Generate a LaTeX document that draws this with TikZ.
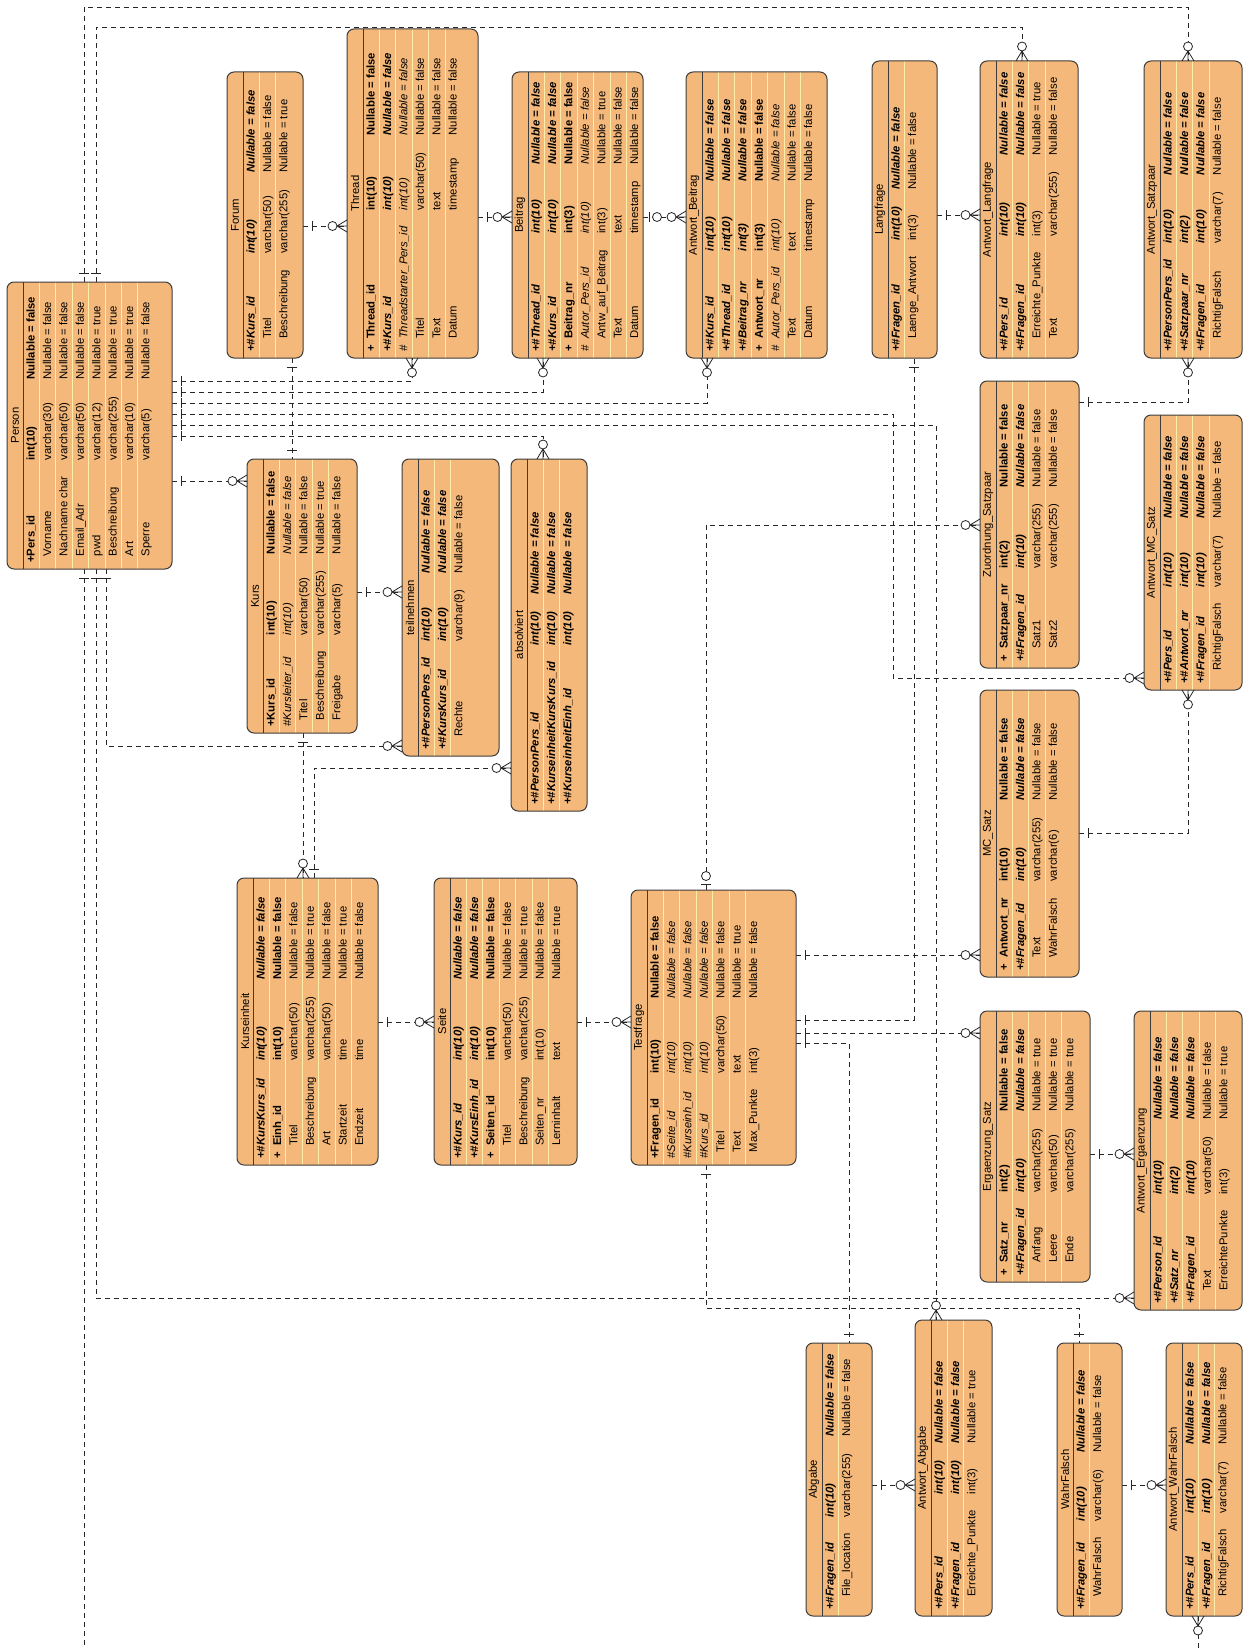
\documentclass[tikz,border=0pt]{standalone}
\usepackage{fontspec}
\setmainfont{Liberation Sans}
\usetikzlibrary{fit}
\definecolor{tblfill}{RGB}{244,184,122}
\definecolor{tblborder}{RGB}{60,60,60}
\definecolor{sepcol}{RGB}{255,238,170}
\newcommand\NF{Nullable = false}
\newcommand\NT{Nullable = true}
\newcommand\rb[4]{\textbf{#1}&\textbf{#2}&\textbf{#3}&\textbf{#4}\\}
\newcommand\rbi[4]{\textbf{\textit{#1}}&\textbf{\textit{#2}}&\textbf{\textit{#3}}&\textbf{\textit{#4}}\\}
\newcommand\ri[4]{\textit{#1}&\textit{#2}&\textit{#3}&\textit{#4}\\}
\newcommand\rn[4]{#1&#2&#3&#4\\}
\newcommand\ertable[8]{%
  \fill[tblfill, rounded corners=7pt] (#2,#3) rectangle (#4,#5);
  \pgfmathtruncatemacro\nsep{#7-1}%
  \foreach \sk in {1,...,\nsep}{\draw[sepline] ({#2+16+16.4*\sk},#3) -- ({#2+16+16.4*\sk},#5);}
  \draw[titleline] ({#2+16},#3) -- ({#2+16},#5);
  \draw[tblline, rounded corners=7pt] (#2,#3) rectangle (#4,#5);
  \node[fit={(#2,#3) (#4,#5)}, inner sep=0pt, outer sep=0pt] (#1) {};
  \node[titletext, rotate=90] (#1-t) at ({#2+8},{(#3+#5)/2}) {#6};
  \node[bodytext, rotate=90, anchor=north west] (#1-b) at ({#2+16},{#5-6})
    {\begin{tabular}{@{}l@{}l@{\hspace{16pt}}l@{\hspace{17pt}}l@{}}#8\end{tabular}};
}
\newcommand\mone[2]{\begin{scope}[shift={#1},rotate=#2]\draw[mk] (9,-5) -- (9,5);\end{scope}}
\newcommand\mcrow[2]{\begin{scope}[shift={#1},rotate=#2]\draw[mk] (0,-6) -- (10,0) -- (0,6) (0,0) -- (10,0);\draw[mk, fill=white] (14.5,0) circle[radius=4.5pt];\end{scope}}
\newcommand\mzone[2]{\begin{scope}[shift={#1},rotate=#2]\draw[mk] (6,-5) -- (6,5);\draw[mk, fill=white] (14,0) circle[radius=4.5pt];\end{scope}}
\begin{document}
\begin{tikzpicture}[x=1pt,y=-1pt,
  sepline/.style={draw=sepcol, line width=0.9pt},
  titleline/.style={draw=tblborder, line width=1pt},
  tblline/.style={draw=tblborder, line width=1pt},
  titletext/.style={font=\fontsize{11.3pt}{13pt}\selectfont, inner sep=0pt},
  bodytext/.style={font=\fontsize{11.3pt}{16.4pt}\selectfont, inner sep=0pt},
  conn/.style={draw=black!85, line width=0.8pt, dash pattern=on 5pt off 4pt},
  mk/.style={draw=black!85, line width=0.8pt, solid}]
\fill[white] (0,0) rectangle (1243,1648);
\useasboundingbox (0,0) rectangle (1243,1648);

% ---------- connectors ----------
% Person top
\draw[conn] (84,282) -- (84,7) -- (1188,7) -- (1188,61);
\draw[conn] (96,282) -- (96,27) -- (1022,27) -- (1022,61);
% Person bottom
\draw[conn] (84,569) -- (84,1648);
\draw[conn] (96,569) -- (96,1298) -- (1134,1298);
\draw[conn] (106,569) -- (106,746) -- (402,746);
\draw[conn] (1198,1616) -- (1198,1648);
% Person right
\draw[conn] (172,381) -- (412,381) -- (412,358);
\draw[conn] (172,392) -- (543,392) -- (543,358);
\draw[conn] (172,403) -- (707,403) -- (707,358);
\draw[conn] (172,414) -- (893,414) -- (893,678) -- (1144,678);
\draw[conn] (172,425) -- (936,425) -- (936,1320);
\draw[conn] (172,436) -- (543,436) -- (543,459);
\draw[conn] (172,481) -- (247,481);
% upper row
\draw[conn] (303,226) -- (347,226);
\draw[conn] (478,217) -- (512,217);
\draw[conn] (643,217) -- (686,217);
\draw[conn] (937,215) -- (980,215);
% Kurs
\draw[conn] (292,358) -- (292,459);
\draw[conn] (357,592) -- (402,592);
\draw[conn] (303,733) -- (303,878);
\draw[conn] (314,878) -- (314,768) -- (511,768);
% Kurseinheit, Seite, Testfrage
\draw[conn] (378,1022) -- (434,1022);
\draw[conn] (577,1022) -- (631,1022);
\draw[conn] (796,955) -- (980,955);
\draw[conn] (796,1020) -- (914,1020) -- (914,358);
\draw[conn] (796,1033) -- (980,1033);
\draw[conn] (796,1043) -- (849,1043) -- (849,1343);
\draw[conn] (706,890) -- (706,525) -- (980,525);
\draw[conn] (706,1165) -- (706,1308) -- (1079,1308) -- (1079,1343);
% right column
\draw[conn] (1079,833) -- (1188,833) -- (1188,690);
\draw[conn] (1079,402) -- (1188,402) -- (1188,358);
\draw[conn] (1090,1154) -- (1134,1154);
\draw[conn] (872,1485) -- (915,1485);
\draw[conn] (1122,1485) -- (1166,1485);

% ---------- tables ----------
\ertable{Person}{7}{282}{172}{569}{Person}{8}{%
\rb{+}{Pers\_id}{int(10)}{\NF}
\rn{}{Vorname}{varchar(30)}{\NF}
\rn{}{Nachname char}{varchar(50)}{\NF}
\rn{}{Email\_Adr}{varchar(50)}{\NF}
\rn{}{pwd}{varchar(12)}{\NT}
\rn{}{Beschreibung}{varchar(255)}{\NT}
\rn{}{Art}{varchar(10)}{\NT}
\rn{}{Sperre}{varchar(5)}{\NF}}

\ertable{Forum}{227}{72}{303}{358}{Forum}{3}{%
\rbi{+\#}{Kurs\_id}{int(10)}{\NF}
\rn{}{Titel}{varchar(50)}{\NF}
\rn{}{Beschreibung}{varchar(255)}{\NT}}

\ertable{Thread}{347}{29}{478}{358}{Thread}{6}{%
\rb{+\kern4pt}{Thread\_id}{int(10)}{\NF}
\rbi{+\#}{Kurs\_id}{int(10)}{\NF}
\ri{\#\kern4pt}{Threadstarter\_Pers\_id}{int(10)}{\NF}
\rn{}{Titel}{varchar(50)}{\NF}
\rn{}{Text}{text}{\NF}
\rn{}{Datum}{timestamp}{\NF}}

\ertable{Beitrag}{512}{72}{643}{358}{Beitrag}{7}{%
\rbi{+\#}{Thread\_id}{int(10)}{\NF}
\rbi{+\#}{Kurs\_id}{int(10)}{\NF}
\rb{+\kern4pt}{Beitrag\_nr}{int(3)}{\NF}
\ri{\#\kern4pt}{Autor\_Pers\_id}{int(10)}{\NF}
\rn{}{Antw\_auf\_Beitrag}{int(3)}{\NT}
\rn{}{Text}{text}{\NF}
\rn{}{Datum}{timestamp}{\NF}}

\ertable{AntwortBeitrag}{686}{72}{827}{358}{Antwort\_Beitrag}{7}{%
\rbi{+\#}{Kurs\_id}{int(10)}{\NF}
\rbi{+\#}{Thread\_id}{int(10)}{\NF}
\rbi{+\#}{Beitrag\_nr}{int(3)}{\NF}
\rb{+\kern4pt}{Antwort\_nr}{int(3)}{\NF}
\ri{\#\kern4pt}{Autor\_Pers\_id}{int(10)}{\NF}
\rn{}{Text}{text}{\NF}
\rn{}{Datum}{timestamp}{\NF}}

\ertable{Langfrage}{872}{61}{937}{358}{Langfrage}{2}{%
\rbi{+\#}{Fragen\_id}{int(10)}{\NF}
\rn{}{Laenge\_Antwort}{int(3)}{\NF}}

\ertable{AntwortLangfrage}{980}{61}{1078}{358}{Antwort\_Langfrage}{4}{%
\rbi{+\#}{Pers\_id}{int(10)}{\NF}
\rbi{+\#}{Fragen\_id}{int(10)}{\NF}
\rn{}{Erreichte\_Punkte}{int(3)}{\NT}
\rn{}{Text}{varchar(255)}{\NF}}

\ertable{AntwortSatzpaar}{1144}{61}{1242}{358}{Antwort\_Satzpaar}{4}{%
\rbi{+\#}{PersonPers\_id}{int(10)}{\NF}
\rbi{+\#}{Satzpaar\_nr}{int(2)}{\NF}
\rbi{+\#}{Fragen\_id}{int(10)}{\NF}
\rn{}{RichtigFalsch}{varchar(7)}{\NF}}

\ertable{Kurs}{247}{459}{357}{733}{Kurs}{5}{%
\rb{+}{Kurs\_id}{int(10)}{\NF}
\ri{\#}{Kursleiter\_id}{int(10)}{\NF}
\rn{}{Titel}{varchar(50)}{\NF}
\rn{}{Beschreibung}{varchar(255)}{\NT}
\rn{}{Freigabe}{varchar(5)}{\NF}}

\ertable{teilnehmen}{402}{459}{499}{756}{teilnehmen}{3}{%
\rbi{+\#}{PersonPers\_id}{int(10)}{\NF}
\rbi{+\#}{KursKurs\_id}{int(10)}{\NF}
\rn{}{Rechte}{varchar(9)}{\NF}}

\ertable{absolviert}{511}{459}{587}{811}{absolviert}{3}{%
\rbi{+\#}{PersonPers\_id}{int(10)}{\NF}
\rbi{+\#}{KurseinheitKursKurs\_id}{int(10)}{\NF}
\rbi{+\#}{KurseinheitEinh\_id}{int(10)}{\NF}}

\ertable{Zuordnung}{980}{381}{1079}{668}{Zuordnung\_Satzpaar}{4}{%
\rb{+\kern4pt}{Satzpaar\_nr}{int(2)}{\NF}
\rbi{+\#}{Fragen\_id}{int(10)}{\NF}
\rn{}{Satz1}{varchar(255)}{\NF}
\rn{}{Satz2}{varchar(255)}{\NF}}

\ertable{AntwortMCSatz}{1144}{415}{1242}{690}{Antwort\_MC\_Satz}{4}{%
\rbi{+\#}{Pers\_id}{int(10)}{\NF}
\rbi{+\#}{Antwort\_nr}{int(10)}{\NF}
\rbi{+\#}{Fragen\_id}{int(10)}{\NF}
\rn{}{RichtigFalsch}{varchar(7)}{\NF}}

\ertable{MCSatz}{980}{690}{1079}{977}{MC\_Satz}{4}{%
\rb{+\kern4pt}{Antwort\_nr}{int(10)}{\NF}
\rbi{+\#}{Fragen\_id}{int(10)}{\NF}
\rn{}{Text}{varchar(255)}{\NF}
\rn{}{WahrFalsch}{varchar(6)}{\NF}}

\ertable{Kurseinheit}{237}{878}{378}{1165}{Kurseinheit}{7}{%
\rbi{+\#}{KursKurs\_id}{int(10)}{\NF}
\rb{+\kern4pt}{Einh\_id}{int(10)}{\NF}
\rn{}{Titel}{varchar(50)}{\NF}
\rn{}{Beschreibung}{varchar(255)}{\NT}
\rn{}{Art}{varchar(50)}{\NF}
\rn{}{Startzeit}{time}{\NT}
\rn{}{Endzeit}{time}{\NF}}

\ertable{Seite}{434}{878}{577}{1165}{Seite}{7}{%
\rbi{+\#}{Kurs\_id}{int(10)}{\NF}
\rbi{+\#}{KursEinh\_id}{int(10)}{\NF}
\rb{+\kern4pt}{Seiten\_id}{int(10)}{\NF}
\rn{}{Titel}{varchar(50)}{\NF}
\rn{}{Beschreibung}{varchar(255)}{\NT}
\rn{}{Seiten\_nr}{int(10)}{\NF}
\rn{}{Lerninhalt}{text}{\NT}}

\ertable{Testfrage}{631}{890}{796}{1165}{Testfrage}{7}{%
\rb{+}{Fragen\_id}{int(10)}{\NF}
\ri{\#}{Seite\_id}{int(10)}{\NF}
\ri{\#}{Kurseinh\_id}{int(10)}{\NF}
\ri{\#}{Kurs\_id}{int(10)}{\NF}
\rn{}{Titel}{varchar(50)}{\NF}
\rn{}{Text}{text}{\NT}
\rn{}{Max\_Punkte}{int(3)}{\NF}}

\ertable{ErgaenzungSatz}{980}{1011}{1090}{1282}{Ergaenzung\_Satz}{5}{%
\rb{+\kern4pt}{Satz\_nr}{int(2)}{\NF}
\rbi{+\#}{Fragen\_id}{int(10)}{\NF}
\rn{}{Anfang}{varchar(255)}{\NT}
\rn{}{Leere}{varchar(50)}{\NT}
\rn{}{Ende}{varchar(255)}{\NT}}

\ertable{AntwortErgaenzung}{1134}{1011}{1242}{1310}{Antwort\_Ergaenzung}{5}{%
\rbi{+\#}{Person\_id}{int(10)}{\NF}
\rbi{+\#}{Satz\_nr}{int(2)}{\NF}
\rbi{+\#}{Fragen\_id}{int(10)}{\NF}
\rn{}{Text}{varchar(50)}{\NF}
\rn{}{ErreichtePunkte}{int(3)}{\NT}}

\ertable{Abgabe}{806}{1343}{872}{1616}{Abgabe}{2}{%
\rbi{+\#}{Fragen\_id}{int(10)}{\NF}
\rn{}{File\_location}{varchar(255)}{\NF}}

\ertable{AntwortAbgabe}{915}{1320}{992}{1616}{Antwort\_Abgabe}{3}{%
\rbi{+\#}{Pers\_id}{int(10)}{\NF}
\rbi{+\#}{Fragen\_id}{int(10)}{\NF}
\rn{}{Erreichte\_Punkte}{int(3)}{\NT}}

\ertable{WahrFalsch}{1057}{1343}{1122}{1616}{WahrFalsch}{2}{%
\rbi{+\#}{Fragen\_id}{int(10)}{\NF}
\rn{}{WahrFalsch}{varchar(6)}{\NF}}

\ertable{AntwortWahrFalsch}{1166}{1343}{1242}{1616}{Antwort\_WahrFalsch}{3}{%
\rbi{+\#}{Pers\_id}{int(10)}{\NF}
\rbi{+\#}{Fragen\_id}{int(10)}{\NF}
\rn{}{RichtigFalsch}{varchar(7)}{\NF}}

% ---------- end markers ----------
\mone{(84,0 |- Person.north)}{90}  \mcrow{(1188,0 |- AntwortSatzpaar.north)}{90}
\mone{(96,0 |- Person.north)}{90}  \mcrow{(1022,0 |- AntwortLangfrage.north)}{90}
\mone{(84,0 |- Person.south)}{270}
\mone{(96,0 |- Person.south)}{270} \mcrow{(AntwortErgaenzung.west |- 0,1298)}{180}
\mone{(106,0 |- Person.south)}{270} \mcrow{(teilnehmen.west |- 0,746)}{180}
\mcrow{(1198,0 |- AntwortWahrFalsch.south)}{270}
\mone{(Person.east |- 0,381)}{0} \mcrow{(412,0 |- Thread.south)}{270}
\mone{(Person.east |- 0,392)}{0} \mcrow{(543,0 |- Beitrag.south)}{270}
\mone{(Person.east |- 0,403)}{0} \mcrow{(707,0 |- AntwortBeitrag.south)}{270}
\mone{(Person.east |- 0,414)}{0} \mcrow{(AntwortMCSatz.west |- 0,678)}{180}
\mone{(Person.east |- 0,425)}{0} \mcrow{(936,0 |- AntwortAbgabe.north)}{90}
\mone{(Person.east |- 0,436)}{0} \mcrow{(543,0 |- absolviert.north)}{90}
\mone{(Person.east |- 0,481)}{0} \mcrow{(Kurs.west |- 0,481)}{180}
\mone{(Forum.east |- 0,226)}{0} \mcrow{(Thread.west |- 0,226)}{180}
\mone{(Thread.east |- 0,217)}{0} \mcrow{(Beitrag.west |- 0,217)}{180}
\mzone{(Beitrag.east |- 0,217)}{0} \mcrow{(AntwortBeitrag.west |- 0,217)}{180}
\mone{(Langfrage.east |- 0,215)}{0} \mcrow{(AntwortLangfrage.west |- 0,215)}{180}
\mone{(292,0 |- Forum.south)}{270} \mone{(292,0 |- Kurs.north)}{90}
\mone{(Kurs.east |- 0,592)}{0} \mcrow{(teilnehmen.west |- 0,592)}{180}
\mone{(303,0 |- Kurs.south)}{270} \mcrow{(303,0 |- Kurseinheit.north)}{90}
\mone{(314,0 |- Kurseinheit.north)}{90} \mcrow{(absolviert.west |- 0,768)}{180}
\mone{(Kurseinheit.east |- 0,1022)}{0} \mcrow{(Seite.west |- 0,1022)}{180}
\mone{(Seite.east |- 0,1022)}{0} \mcrow{(Testfrage.west |- 0,1022)}{180}
\mone{(Testfrage.east |- 0,955)}{0} \mcrow{(MCSatz.west |- 0,955)}{180}
\mone{(Testfrage.east |- 0,1020)}{0} \mone{(914,0 |- Langfrage.south)}{270}
\mone{(Testfrage.east |- 0,1033)}{0} \mcrow{(ErgaenzungSatz.west |- 0,1033)}{180}
\mone{(Testfrage.east |- 0,1043)}{0} \mone{(849,0 |- Abgabe.north)}{90}
\mzone{(706,0 |- Testfrage.north)}{90} \mcrow{(Zuordnung.west |- 0,525)}{180}
\mone{(706,0 |- Testfrage.south)}{270} \mone{(1079,0 |- WahrFalsch.north)}{90}
\mone{(MCSatz.east |- 0,833)}{0} \mcrow{(1188,0 |- AntwortMCSatz.south)}{270}
\mone{(Zuordnung.east |- 0,402)}{0} \mcrow{(1188,0 |- AntwortSatzpaar.south)}{270}
\mone{(ErgaenzungSatz.east |- 0,1154)}{0} \mcrow{(AntwortErgaenzung.west |- 0,1154)}{180}
\mone{(Abgabe.east |- 0,1485)}{0} \mcrow{(AntwortAbgabe.west |- 0,1485)}{180}
\mone{(WahrFalsch.east |- 0,1485)}{0} \mcrow{(AntwortWahrFalsch.west |- 0,1485)}{180}
\end{tikzpicture}
\end{document}
